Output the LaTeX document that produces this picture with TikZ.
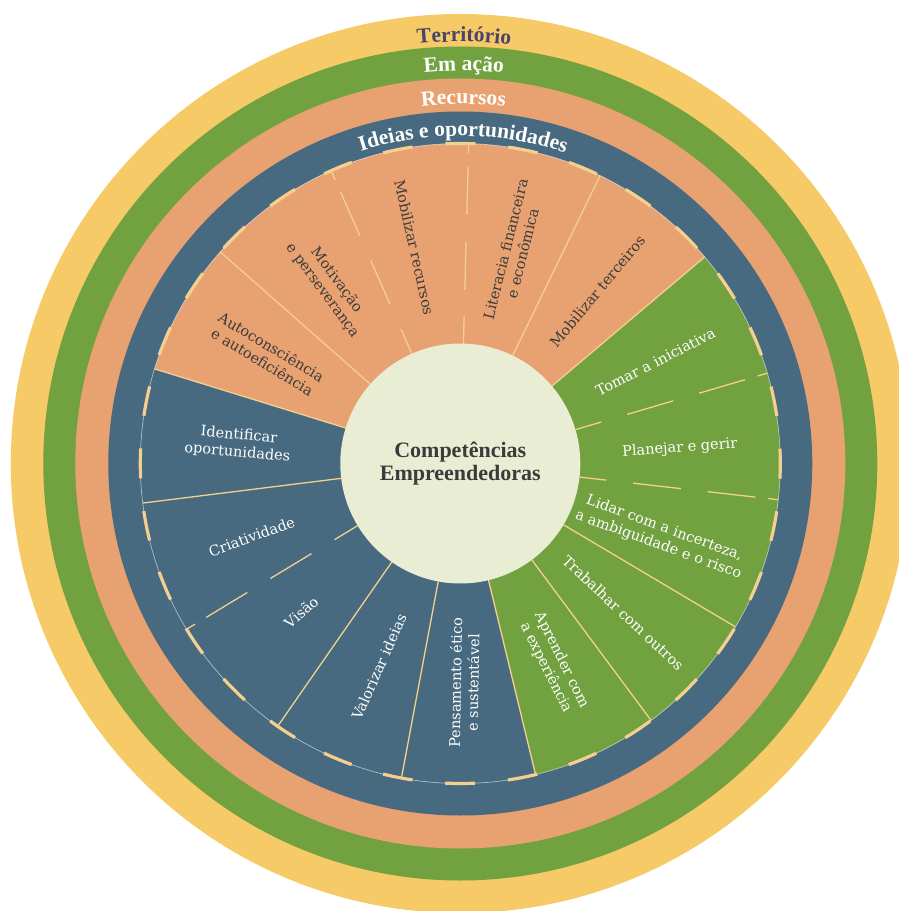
\documentclass[tikz,border=0pt]{standalone}
\usepackage{fontspec}
\setmainfont{DejaVu Serif}
\newfontfamily\rfont{Liberation Serif}
\newfontfamily\sfont{DejaVu Serif}
\usetikzlibrary{decorations.text}
\definecolor{cyellow}{HTML}{F6CA66}
\definecolor{cgreen}{HTML}{72A140}
\definecolor{corange}{HTML}{E8A170}
\definecolor{cblue}{HTML}{476A80}
\definecolor{ccream}{HTML}{E8EDD4}
\definecolor{cline}{HTML}{F4D08E}
\definecolor{cdark}{HTML}{3B3B3B}
\definecolor{cpurple}{HTML}{4A4466}
\begin{document}
\begin{tikzpicture}[
  seglabel/.style={font=\sfont\fontsize{14.5pt}{17.5pt}\selectfont, align=center, inner sep=0pt},
  darklabel/.style={seglabel, text=cdark},
  lightlabel/.style={seglabel, text=white},
  bline/.style={draw=cline, line width=1.3pt},
  bdash/.style={bline, dash pattern=on 27pt off 27pt on 48pt off 27pt on 48pt off 13pt on 10pt off 60pt},
  rim/.style={draw=white, draw opacity=0.55, line width=0.7pt},
  rimdash/.style={draw=cline, line width=3.2pt, dash pattern=on 30pt off 32.83pt},
  centre/.style={font=\rfont\bfseries\fontsize{22pt}{23.5pt}\selectfont, align=center, text=cdark, inner sep=0pt}
]
\useasboundingbox (-460.3pt,-447.5pt) rectangle (438.7pt,463.5pt);
\clip (-460.3pt,-447.5pt) rectangle (438.7pt,463.5pt);
% rings
\fill[cyellow] (0,0) circle[radius=449.5pt];
\fill[cgreen] (0,0) circle[radius=417pt];
\fill[corange] (0,0) circle[radius=385pt];
\fill[cblue] (0,0) circle[radius=352pt];
% sectors
\fill[corange] (0,0) -- (40.2:320pt) arc[start angle=40.2, end angle=162.8, radius=320pt] -- cycle;
\fill[cgreen] (0,0) -- (-76.4:320pt) arc[start angle=-76.4, end angle=40.2, radius=320pt] -- cycle;
\fill[cblue] (0,0) -- (162.8:320pt) arc[start angle=162.8, end angle=283.6, radius=320pt] -- cycle;
\draw[rim] (0,0) circle[radius=320pt];
% boundaries
\draw[bline] (162.8:120pt) -- (162.8:320pt);
\draw[bline] (138.6:120pt) -- (138.6:320pt);
\draw[bdash] (113.8:120pt) -- (113.8:320pt);
\draw[bdash] (88.5:120pt) -- (88.5:320pt);
\draw[bline] (64.1:120pt) -- (64.1:320pt);
\draw[bline] (40.2:120pt) -- (40.2:320pt);
\draw[bdash] (16.4:120pt) -- (16.4:320pt);
\draw[bdash] (-6.5:120pt) -- (-6.5:320pt);
\draw[bline] (-30.7:120pt) -- (-30.7:320pt);
\draw[bline] (-53.4:120pt) -- (-53.4:320pt);
\draw[bline] (-76.4:120pt) -- (-76.4:320pt);
\draw[bline] (-100.6:120pt) -- (-100.6:320pt);
\draw[bline] (-124.8:120pt) -- (-124.8:320pt);
\draw[bdash] (-148.8:120pt) -- (-148.8:320pt);
\draw[bline] (-172.9:120pt) -- (-172.9:320pt);
% rim dashes
\draw[rimdash] (87.31:320pt) arc[start angle=87.31, end angle=447.31, radius=320pt];
% centre
\fill[ccream] (0,0) circle[radius=120pt];
\node[centre] (core) at (0,0) {Competências\\Empreendedoras};
% ring labels
\path[decorate, decoration={text along path, text align=center,
  text={|\rfont\bfseries\fontsize{21.5pt}{24pt}\selectfont\color{cpurple}|Território}}]
  (129.5:421.8pt) arc[start angle=129.5, end angle=49.5, radius=421.8pt];
\path[decorate, decoration={text along path, text align=center,
  text={|\rfont\bfseries\fontsize{21.5pt}{24pt}\selectfont\color{white}|Em ação}}]
  (129.5:393pt) arc[start angle=129.5, end angle=49.5, radius=393pt];
\path[decorate, decoration={text along path, text align=center,
  text={|\rfont\bfseries\fontsize{21.5pt}{24pt}\selectfont\color{white}|Recursos}}]
  (129.5:359.5pt) arc[start angle=129.5, end angle=49.5, radius=359.5pt];
\path[decorate, decoration={text along path, text align=center,
  text={|\rfont\bfseries\fontsize{21.5pt}{24pt}\selectfont\color{white}|Ideias e oportunidades}}]
  (134.5:327.5pt) arc[start angle=134.5, end angle=44.5, radius=327.5pt];
% segment labels: Recursos
\node[darklabel, rotate=-31] (autoc) at (150.5:222pt) {Autoconsciência\\e autoeficiência};
\node[darklabel, rotate=-53.5] (motiv) at (126.3:221pt) {Motivação\\e perseverança};
\node[darklabel, rotate=-77.5] (mobrec) at (102:221pt) {Mobilizar recursos};
\node[darklabel, rotate=76] (litera) at (75.8:219pt) {Literacia financeira\\e econômica};
\node[darklabel, rotate=50.5] (mobter) at (51.5:220pt) {Mobilizar terceiros};
% Em acao
\node[lightlabel, rotate=27] (tomar) at (27.5:220pt) {Tomar a iniciativa};
\node[lightlabel, rotate=4] (plan) at (4:220pt) {Planejar e gerir};
\node[lightlabel, rotate=-20] (lidar) at (-20:214pt) {Lidar com a incerteza,\\a ambiguidade e o risco};
\node[lightlabel, rotate=-43] (trab) at (-42.5:221pt) {Trabalhar com outros};
\node[lightlabel, rotate=-63.5] (aprend) at (-65:221pt) {Aprender com\\a experiência};
% Ideias
\node[lightlabel, rotate=89] (etico) at (-89:219pt) {Pensamento ético\\e sustentável};
\node[lightlabel, rotate=66] (valor) at (-111.8:219pt) {Valorizar ideias};
\node[lightlabel, rotate=41.5] (visao) at (-136.9:218pt) {Visão};
\node[lightlabel, rotate=20] (criat) at (-160.7:221pt) {Criatividade};
\node[lightlabel, rotate=-5] (ident) at (175:223pt) {Identificar\\oportunidades};
\end{tikzpicture}
\end{document}
